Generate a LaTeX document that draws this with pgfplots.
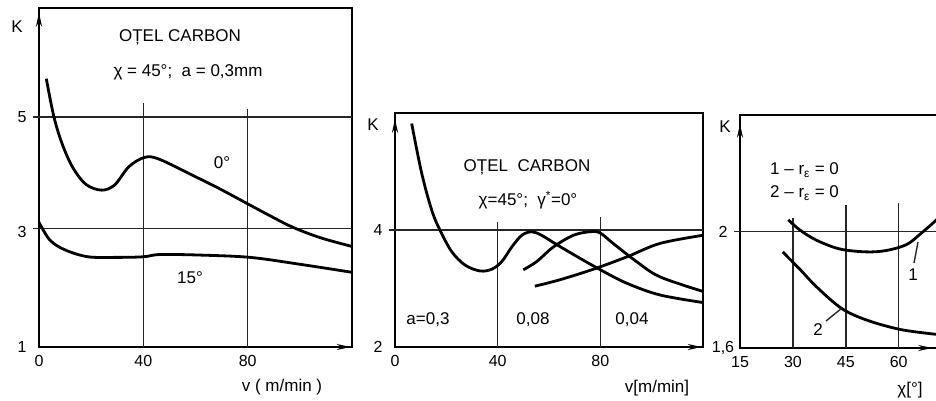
\documentclass[border=0pt]{standalone}
\usepackage{fontspec}
\setmainfont{Liberation Sans}
\usepackage{pgfplots}
\pgfplotsset{compat=1.18}
\usetikzlibrary{arrows.meta}
\pgfplotsset{
  panel/.style={scale only axis, axis line style={line width=1.8pt},
    tick style={draw=none},
    tick label style={font=\fontsize{16}{18}\selectfont},
    /pgf/number format/assume math mode=true,
    xticklabel style={anchor=center, yshift=-14pt},
    yticklabel style={anchor=center, xshift=-17pt},
    clip=false},
  curve/.style={line width=2.8pt, smooth, tension=0.55, no marks, black}
}
\tikzset{grd/.style={line width=1.4pt, black!85}}
\begin{document}
\begin{tikzpicture}[every node/.style={font=\fontsize{17}{19}\selectfont, inner sep=0pt}]
\useasboundingbox (0pt,0pt) rectangle (936pt,400pt);
\clip (0pt,0pt) rectangle (936pt,400pt);
% ---------------- Panel 1
\begin{axis}[panel, at={(39pt,53pt)}, anchor=south west, width=313pt, height=339pt,
  xmin=0, xmax=120, ymin=1, ymax=6.9, xtick={0,40,80}, ytick={1,3,5}]
\draw[grd] ([xshift=-6pt]axis cs:0,5) -- (axis cs:120,5);
\draw[grd] ([xshift=-6pt]axis cs:0,3.06) -- (axis cs:120,3.06);
\draw[grd] (axis cs:40,1) -- (axis cs:40,5.25);
\draw[grd] (axis cs:80,1) -- (axis cs:80,5.15);
\addplot[curve] coordinates {(2.8,5.67) (5.75,5.0) (9,4.52) (13,4.12) (18,3.83) (24,3.73) (29,3.82) (34.5,4.14) (40.5,4.30) (46,4.27) (58.8,3.99) (69,3.76) (80.9,3.47) (90,3.25) (97.5,3.08) (108,2.90) (120,2.75)};
\addplot[curve] coordinates {(0,3.17) (4.2,2.86) (10,2.69) (18.8,2.57) (30,2.56) (40,2.57) (46.5,2.61) (61.7,2.60) (80.9,2.56) (100,2.44) (120,2.30)};
\draw[line width=1.8pt, -{Stealth[length=14pt,width=6pt]}] (axis cs:0,6.5) -- (axis cs:0,6.82);
\draw[line width=1.8pt, -{Stealth[length=14pt,width=6pt]}] (axis cs:110,1) -- (axis cs:119.5,1);
\end{axis}
% ---------------- Panel 2
\begin{axis}[panel, at={(395pt,53pt)}, anchor=south west, width=308pt, height=234pt,
  xmin=0, xmax=120, ymin=2, ymax=6, xtick={0,40,80}, ytick={2,4}]
\draw[grd] ([xshift=-6pt]axis cs:0,4) -- (axis cs:120,4);
\draw[grd] (axis cs:40,2) -- (axis cs:40,4.14);
\draw[grd] (axis cs:80,2) -- (axis cs:80,4.22);
\addplot[curve] coordinates {(6.5,5.82) (10.4,4.97) (14.3,4.34) (17.5,4.0) (22.1,3.63) (27.3,3.40) (33.1,3.30) (37.7,3.33) (41.6,3.46) (45.5,3.71) (49.4,3.91) (53.3,3.97) (57.1,3.91) (62.3,3.77) (68.8,3.60) (79.6,3.33) (90.3,3.09) (103.2,2.89) (120,2.76)};
\addplot[curve] coordinates {(50,3.32) (55.2,3.46) (61.7,3.71) (69.5,3.91) (76,3.97) (79.9,3.95) (85,3.77) (94.1,3.46) (103.2,3.20) (120,2.95)};
\addplot[curve] coordinates {(54.5,3.04) (64.3,3.15) (77.3,3.33) (90.3,3.54) (103.2,3.77) (120,3.91)};
\draw[line width=1.8pt, -{Stealth[length=14pt,width=6pt]}] (axis cs:0,5.6) -- (axis cs:0,5.9);
\draw[line width=1.8pt, -{Stealth[length=14pt,width=6pt]}] (axis cs:110,2) -- (axis cs:119.5,2);
\end{axis}
% ---------------- Panel 3
\begin{axis}[panel, at={(740pt,52pt)}, anchor=south west, width=201pt, height=233pt,
  xmin=15, xmax=72, ymin=1.6, ymax=2.4, xtick={15,30,45,60}, ytick={1.6,2},
  yticklabels={{1,6},2}]
\draw[grd] ([xshift=-6pt]axis cs:15,2) -- (axis cs:72,2);
\draw[grd] (axis cs:30,1.6) -- (axis cs:30,2.046);
\draw[grd] (axis cs:45,1.6) -- (axis cs:45,2.09);
\draw[grd] (axis cs:60,1.6) -- (axis cs:60,2.098);
\addplot[curve] coordinates {(28.7,2.04) (32,2.005) (36.7,1.97) (43.3,1.94) (50.9,1.93) (56.6,1.935) (62.2,1.955) (66,1.99) (70.7,2.04) (72,2.06)};
\addplot[curve] coordinates {(27.1,1.93) (32,1.87) (36.7,1.81) (43.8,1.736) (50.9,1.696) (60.3,1.664) (69.8,1.648) (72,1.646)};
\draw[line width=1.8pt, -{Stealth[length=14pt,width=6pt]}] (axis cs:15,2.3) -- (axis cs:15,2.37);
\draw[line width=1.8pt, -{Stealth[length=14pt,width=6pt]}] (axis cs:64,1.6) -- (axis cs:69.5,1.6);
\end{axis}
% ---------------- Texts
\node at (180pt,363pt) {OȚEL CARBON};
\node at (188pt,328pt) {χ = 45°;\ \ a = 0,3mm};
\node at (222pt,237pt) {0°};
\node at (190pt,122pt) {15°};
\node at (17pt,373pt) {K};
\node at (282pt,13pt) {v ( m/min )};
\node at (527pt,233pt) {OȚEL\ \ CARBON};
\node at (528pt,200pt) {χ=45°;\ \ γ\textsuperscript{*}=0°};
\node at (428pt,80pt) {a=0,3};
\node at (533pt,80pt) {0,08};
\node at (632pt,80pt) {0,04};
\node at (373pt,275pt) {K};
\node at (657pt,12pt) {v[m/min]};
\node[anchor=west] at (770pt,230pt) {1 – r\textsubscript{ε} = 0};
\node[anchor=west] at (770pt,207pt) {2 – r\textsubscript{ε} = 0};
\node at (913pt,125pt) {1};
\draw[grd] (918pt,158pt) -- (914pt,137pt);
\node at (818pt,70pt) {2};
\draw[grd] (826pt,79pt) -- (842pt,92pt);
\node at (725pt,273pt) {K};
\node at (910pt,10pt) {χ[°]};
\end{tikzpicture}
\end{document}
